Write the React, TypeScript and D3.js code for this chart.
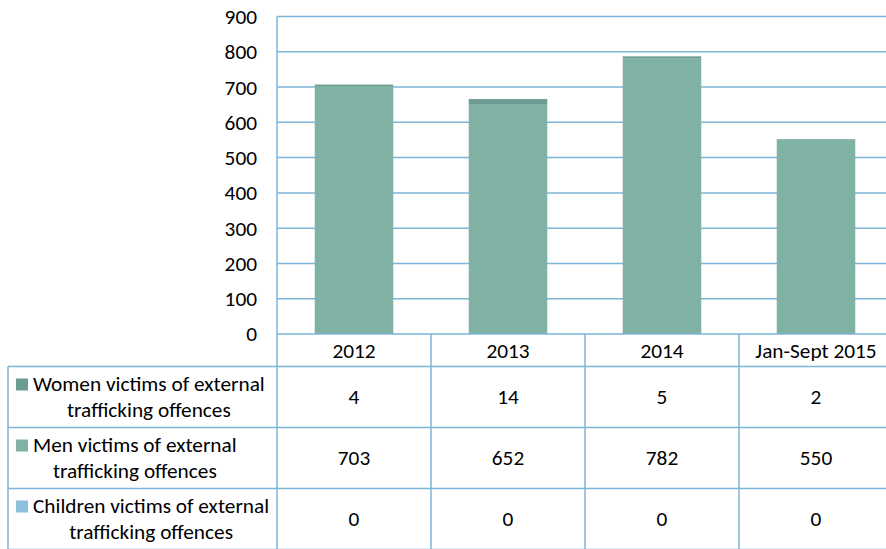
import React, { useEffect, useRef } from "react";
import * as d3 from "d3";

const categories = ["2012", "2013", "2014", "Jan-Sept 2015"];
const women = [4, 14, 5, 2];
const men = [703, 652, 782, 550];
const children = [0, 0, 0, 0];
const yTicks = [0, 100, 200, 300, 400, 500, 600, 700, 800, 900];
const seriesNames = [
  ["Women victims of external", "trafficking offences"],
  ["Men victims of external", "trafficking offences"],
  ["Children victims of external", "trafficking offences"],
];
const seriesColors = ["#6b9b91", "#80b1a5", "#8cc0de"];

const W = 886;
const H = 549;
const FONT = "Carlito, Lato, 'Open Sans', sans-serif";
const FS = 21.3;
const LINE = "#7db5d9";

export default function App() {
  const ref = useRef<SVGSVGElement>(null);
  useEffect(() => {
    const svg = d3.select(ref.current);
    svg.selectAll("*").remove();
    const left = 277, right = 893, top = 16.5, base = 334;
    const y = d3.scaleLinear().domain([0, 900]).range([base, top]);
    const xCell = d3.scaleBand().domain(categories).range([left, right]);
    const x = d3.scaleBand().domain(categories).range([left, right]).paddingInner(0.49).paddingOuter(0.245);
    const rows = [366.5, 427.5, 488.5, 549.5];
    const tableLeft = 8;

    // gridlines
    svg.append("g").selectAll("line").data(yTicks.filter(t => t > 0)).join("line")
      .attr("x1", left).attr("x2", W).attr("y1", d => y(d)).attr("y2", d => y(d))
      .attr("stroke", LINE).attr("stroke-width", 1.5);

    // stacked bars
    const series = [men, women, children];
    const colors = [seriesColors[1], seriesColors[0], seriesColors[2]];
    categories.forEach((c, i) => {
      let acc = 0;
      series.forEach((s, k) => {
        const v = s[i];
        if (v > 0) {
          svg.append("rect")
            .attr("x", x(c)!).attr("width", x.bandwidth())
            .attr("y", y(acc + v)).attr("height", y(acc) - y(acc + v))
            .attr("fill", colors[k]);
        }
        acc += v;
      });
    });

    const txt = (sel: any) => sel.attr("font-family", FONT).attr("font-size", FS).attr("fill", "#000");

    // y labels
    txt(svg.append("g").selectAll("text").data(yTicks).join("text")
      .attr("x", 257).attr("y", d => y(d)).attr("dy", "0.35em")
      .attr("text-anchor", "end"))
      .text((d: number) => d);

    // table lines
    const g = svg.append("g").attr("stroke", LINE).attr("stroke-width", 1.5);
    g.append("line").attr("x1", left).attr("x2", left).attr("y1", top).attr("y2", H);
    g.append("line").attr("x1", left).attr("x2", W).attr("y1", base).attr("y2", base);
    categories.forEach(c => {
      const xx = xCell(c)! + xCell.bandwidth();
      g.append("line").attr("x1", xx).attr("x2", xx).attr("y1", base).attr("y2", H);
    });
    rows.forEach(r => g.append("line").attr("x1", tableLeft).attr("x2", W).attr("y1", r).attr("y2", r));
    g.append("line").attr("x1", tableLeft).attr("x2", tableLeft).attr("y1", rows[0]).attr("y2", H);

    // header
    categories.forEach(c => {
      txt(svg.append("text")).attr("x", xCell(c)! + xCell.bandwidth() / 2).attr("y", (base + rows[0]) / 2)
        .attr("dy", "0.35em").attr("text-anchor", "middle").text(c);
    });

    const data = [women, men, children];
    data.forEach((s, r) => {
      const rt = rows[r], rb = rows[r + 1];
      const mid = (rt + rb) / 2;
      categories.forEach((c, i) => {
        txt(svg.append("text")).attr("x", xCell(c)! + xCell.bandwidth() / 2).attr("y", mid)
          .attr("dy", "0.35em").attr("text-anchor", "middle").text(s[i]);
      });
      // legend
      const tx = 33;
      const t1 = txt(svg.append("text")).attr("x", tx).attr("y", mid - 13).attr("dy", "0.35em").text(seriesNames[r][0]);
      const w1 = (t1.node() as SVGTextElement).getComputedTextLength();
      txt(svg.append("text")).attr("y", mid + 13).attr("dy", "0.35em").attr("text-anchor", "middle")
        .attr("x", tx + w1 / 2).text(seriesNames[r][1]);
      svg.append("rect").attr("x", 16).attr("y", mid - 13 - 5.5).attr("width", 12).attr("height", 12)
        .attr("fill", seriesColors[r]);
    });
  }, []);
  return (
    <svg ref={ref} width={W} height={H} style={{ position: "absolute", left: 0, top: 0, background: "#fff" }} />
  );
}
